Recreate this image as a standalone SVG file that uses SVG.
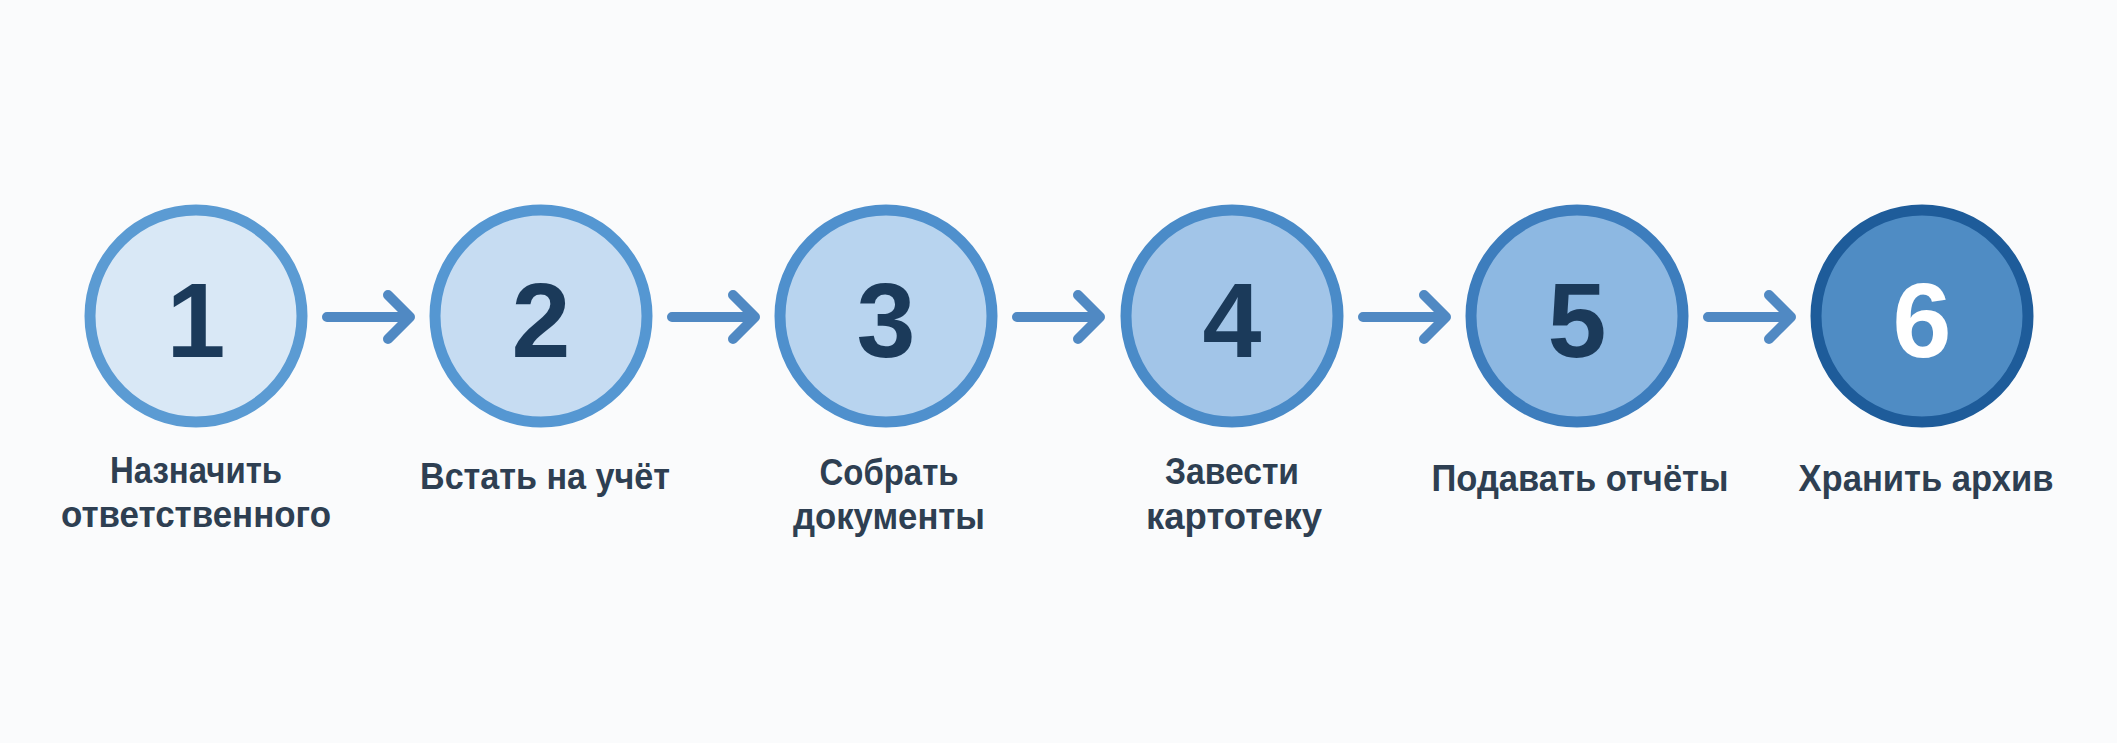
<svg xmlns="http://www.w3.org/2000/svg" width="2117" height="743" viewBox="0 0 2117 743">
<style>
.ring{stroke-width:11}
.num{font-family:"Liberation Sans",Arial,sans-serif;font-weight:700;font-size:106px;text-anchor:middle;fill:#1b3a5a}
.lbl{font-family:"Liberation Sans",Arial,sans-serif;font-weight:700;font-size:36px;text-anchor:middle;fill:#2e3f52}
.arr{fill:none;stroke:#5089c3;stroke-width:10;stroke-linecap:round;stroke-linejoin:round}
</style>
<rect width="2117" height="743" fill="#fafbfc"/>
<g id="connectors">
<path class="arr" d="M327 317H409M388 295L410 317L388 339"/>
<path class="arr" d="M672 317H754M733 295L755 317L733 339"/>
<path class="arr" d="M1017 317H1099M1078 295L1100 317L1078 339"/>
<path class="arr" d="M1363 317H1445M1424 295L1446 317L1424 339"/>
<path class="arr" d="M1708 317H1790M1769 295L1791 317L1769 339"/>
</g>
<g id="node1">
<circle class="ring" cx="196" cy="316" r="106" fill="#d9e8f6" stroke="#5b9bd3"/>
<text class="num" x="196" y="357">1</text>
<text class="lbl" x="196" y="483" textLength="172" lengthAdjust="spacingAndGlyphs">Назначить</text>
<text class="lbl" x="196" y="527" textLength="270" lengthAdjust="spacingAndGlyphs">ответственного</text>
</g>
<g id="node2">
<circle class="ring" cx="541" cy="316" r="106" fill="#c6dcf2" stroke="#5597d2"/>
<text class="num" x="541" y="357">2</text>
<text class="lbl" x="545" y="489" textLength="250" lengthAdjust="spacingAndGlyphs">Встать на учёт</text>
</g>
<g id="node3">
<circle class="ring" cx="886" cy="316" r="106" fill="#b8d4ef" stroke="#4f90cd"/>
<text class="num" x="886" y="357">3</text>
<text class="lbl" x="889" y="485" textLength="139" lengthAdjust="spacingAndGlyphs">Собрать</text>
<text class="lbl" x="889" y="529" textLength="192" lengthAdjust="spacingAndGlyphs">документы</text>
</g>
<g id="node4">
<circle class="ring" cx="1232" cy="316" r="106" fill="#a2c5e8" stroke="#4a8bc8"/>
<text class="num" x="1232" y="357">4</text>
<text class="lbl" x="1232" y="484" textLength="134" lengthAdjust="spacingAndGlyphs">Завести</text>
<text class="lbl" x="1234" y="529" textLength="176" lengthAdjust="spacingAndGlyphs">картотеку</text>
</g>
<g id="node5">
<circle class="ring" cx="1577" cy="316" r="106" fill="#8db8e2" stroke="#3d7dbd"/>
<text class="num" x="1577" y="357">5</text>
<text class="lbl" x="1580" y="491" textLength="297" lengthAdjust="spacingAndGlyphs">Подавать отчёты</text>
</g>
<g id="node6">
<circle class="ring" cx="1922" cy="316" r="106" fill="#4f8cc4" stroke="#1e5c9a"/>
<text class="num" x="1922" y="357" style="fill:#ffffff">6</text>
<text class="lbl" x="1926" y="491" textLength="255" lengthAdjust="spacingAndGlyphs">Хранить архив</text>
</g>
</svg>
